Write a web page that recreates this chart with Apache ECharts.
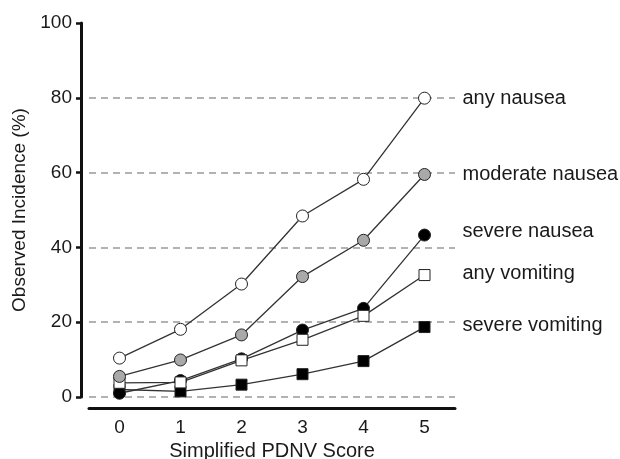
<!DOCTYPE html>
<html>
<head>
<meta charset="utf-8">
<script src="https://cdn.jsdelivr.net/npm/echarts@6/dist/echarts.min.js"></script>
<style>
  html, body { margin: 0; padding: 0; background: #fff; }
  #chart { width: 620px; height: 459px; }
</style>
</head>
<body>
<div id="chart"></div>
<script>
// simplified PDNV score on x, observed incidence (%) on y
const scores = ['0', '1', '2', '3', '4', '5']
const yTicks = [0, 20, 40, 60, 80, 100]

const anyNausea = [10.4, 18.1, 30.2, 48.4, 58.2, 79.9]
const moderateNausea = [5.5, 9.9, 16.6, 32.2, 41.9, 59.5]
const severeNausea = [1.0, 4.4, 10.2, 17.9, 23.7, 43.3]
const anyVomiting = [3.8, 3.9, 9.8, 15.3, 21.7, 32.6]
const severeVomiting = [2.0, 1.5, 3.3, 6.1, 9.6, 18.7]

const font = 'Arial, "Liberation Sans", Helvetica, sans-serif'
const ink = '#1a1a1a'

const chart = echarts.init(document.getElementById('chart'))

function makeSeries(name, data, symbol, size, fill, labelShift) {
  return {
    name: name,
    type: 'line',
    data: data,
    symbol: symbol,
    symbolSize: size,
    z: 3,
    lineStyle: { color: '#333', width: 1.3 },
    itemStyle: { color: fill, borderColor: '#222', borderWidth: 1 },
    emphasis: { disabled: true },
    endLabel: {
      show: true,
      formatter: '{a}',
      distance: 38,
      offset: [0, labelShift],
      fontFamily: font,
      fontSize: 20,
      color: ink
    }
  }
}

const option = {
  animation: false,
  backgroundColor: '#fff',
  grid: { left: 89, right: 165, top: 23, bottom: 62, containLabel: false, outerBoundsMode: 'none' },
  xAxis: {
    type: 'category',
    data: scores,
    boundaryGap: true,
    offset: 11,
    name: 'Simplified PDNV Score',
    nameLocation: 'middle',
    nameGap: 33,
    nameTextStyle: { fontFamily: font, fontSize: 20, color: ink },
    axisLine: { onZero: false, lineStyle: { color: '#111', width: 3 } },
    axisTick: { alignWithLabel: true, length: 6, lineStyle: { color: '#111', width: 2.5 } },
    axisLabel: { fontFamily: font, fontSize: 19, color: ink, margin: 10 },
    splitLine: { show: false }
  },
  yAxis: {
    type: 'value',
    min: yTicks[0],
    max: yTicks[yTicks.length - 1],
    interval: 20,
    offset: 8,
    name: 'Observed Incidence (%)',
    nameLocation: 'middle',
    nameGap: 52,
    nameTextStyle: { fontFamily: font, fontSize: 19, color: ink },
    axisLine: { show: true, onZero: false, lineStyle: { color: '#111', width: 3 } },
    axisTick: { show: true, length: 5, lineStyle: { color: '#111', width: 2.5 } },
    axisLabel: { fontFamily: font, fontSize: 19, color: ink, margin: 9 },
    splitLine: {
      show: true,
      lineStyle: {
        // no dashed line at 100
        color: ['#999', '#999', '#999', '#999', '#999', 'rgba(0,0,0,0)'],
        width: 1.5,
        type: [7, 5]
      }
    }
  },
  series: [
    makeSeries('severe vomiting', severeVomiting, 'rect', 11, '#000', -2),
    makeSeries('severe nausea', severeNausea, 'circle', 12, '#000', -4),
    makeSeries('any vomiting', anyVomiting, 'rect', 11, '#fff', -2),
    makeSeries('moderate nausea', moderateNausea, 'circle', 12, '#a9a9a9', 0),
    makeSeries('any nausea', anyNausea, 'circle', 12, '#fff', 0)
  ]
}

chart.setOption(option)
window.addEventListener('resize', () => chart.resize())
</script>
</body>
</html>
